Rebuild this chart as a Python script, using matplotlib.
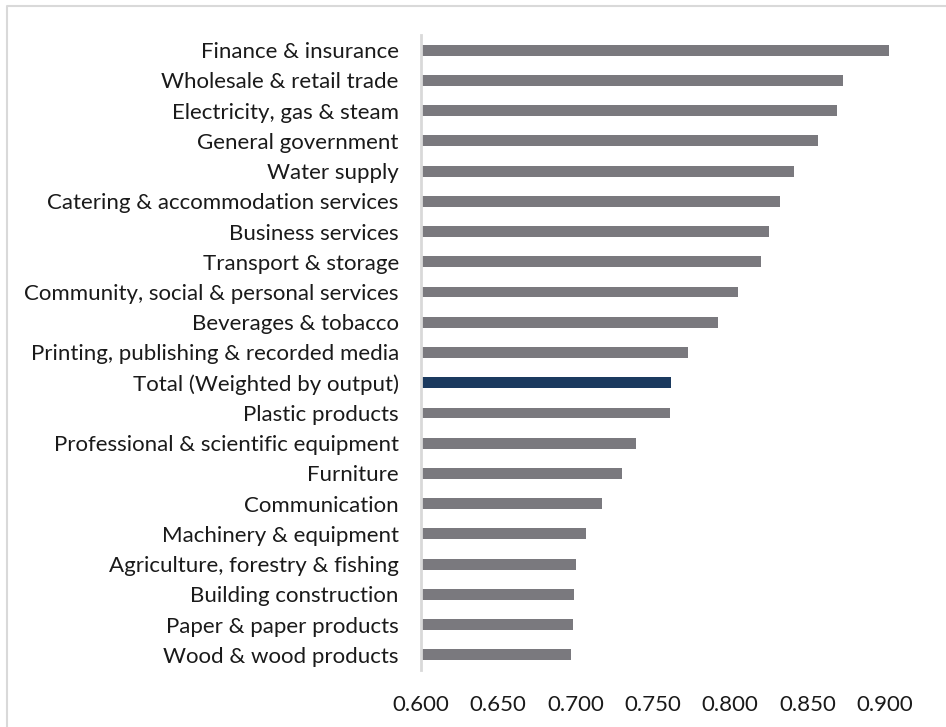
import matplotlib.pyplot as plt
from matplotlib.lines import Line2D

# sectors, top to bottom
sectors = ["Finance & insurance", "Wholesale & retail trade", "Electricity, gas & steam",
           "General government", "Water supply", "Catering & accommodation services",
           "Business services", "Transport & storage", "Community, social & personal services",
           "Beverages & tobacco", "Printing, publishing & recorded media",
           "Total (Weighted by output)", "Plastic products",
           "Professional & scientific equipment", "Furniture", "Communication",
           "Machinery & equipment", "Agriculture, forestry & fishing",
           "Building construction", "Paper & paper products", "Wood & wood products"]
values = [0.903, 0.873, 0.869, 0.857, 0.841, 0.832, 0.825, 0.820, 0.805, 0.792, 0.773,
          0.762, 0.761, 0.739, 0.730, 0.717, 0.707, 0.700, 0.699, 0.698, 0.697]
ticks = [0.600, 0.650, 0.700, 0.750, 0.800, 0.850, 0.900]

grey = "#7a797e"
navy = "#1b3a5f"
colors = [navy if s.startswith("Total") else grey for s in sectors]

plt.rcParams['font.family'] = ['Lato', 'DejaVu Sans']

fig = plt.figure(figsize=(9.46, 7.27), dpi=100)
ax = fig.add_axes([421/946, 1 - 670/727, (915.7 - 421)/946, (670 - 35)/727])

y = list(range(len(sectors)))
ax.barh(y, [v - 0.6 for v in values], left=0.6, height=0.36, color=colors)
ax.set_ylim(len(sectors) - 0.5, -0.5)
ax.set_xlim(0.6, 0.92)

ax.set_yticks(y)
ax.set_yticklabels(sectors, fontsize=16, color="#1a1a1a")
ax.set_xticks(ticks)
ax.set_xticklabels([f"{t:.3f}" for t in ticks], fontsize=16, color="#1a1a1a")
ax.tick_params(axis="y", length=0, pad=16)
ax.tick_params(axis="x", length=0, pad=18)

for side in ["top", "right", "bottom"]:
    ax.spines[side].set_visible(False)
ax.spines["left"].set_color("#d9d9d9")
ax.spines["left"].set_linewidth(2)

# chart frame: only its top and left edges fall inside the picture
fig.lines.append(Line2D([7/946, 7/946, 1], [0, 1 - 6/727, 1 - 6/727],
                        transform=fig.transFigure, color="#d9d9d9", linewidth=1.5))

fig.savefig("out.png", dpi=100)
